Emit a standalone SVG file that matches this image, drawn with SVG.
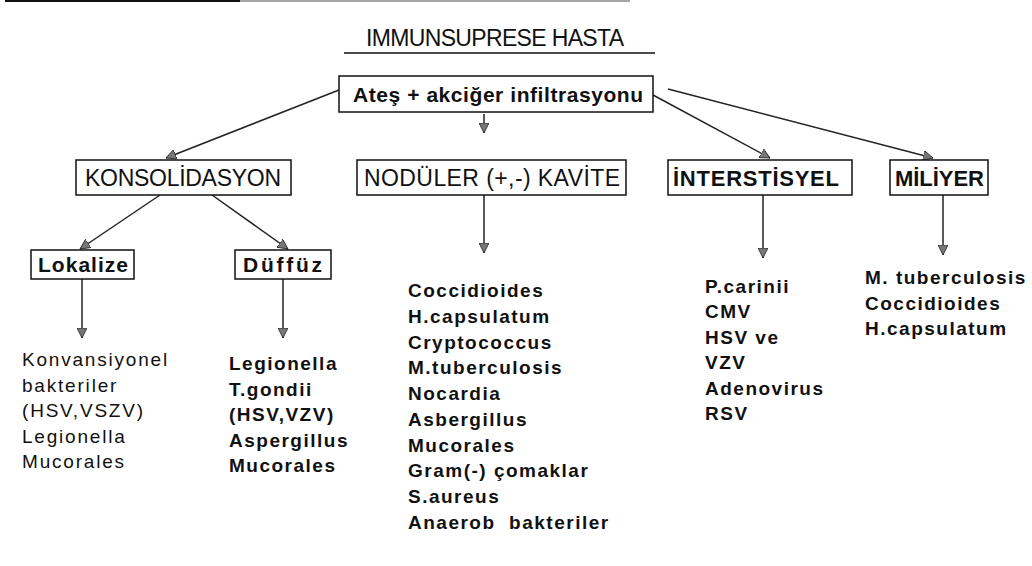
<svg xmlns="http://www.w3.org/2000/svg" width="1032" height="566" viewBox="0 0 1032 566">
<defs>
<style>
.box{fill:#fff;stroke:#111;stroke-width:1.5}
.lbl{font-family:"Liberation Sans",Arial,sans-serif;fill:#111}
.reg{font-weight:normal}
.bold{font-weight:bold}
.list{font-family:"Liberation Sans",Arial,sans-serif;font-size:19px;fill:#111}
.conn{stroke:#222;stroke-width:1.5;fill:none;marker-end:url(#arr)}
</style>
<marker id="arr" viewBox="0 0 10 10" refX="10" refY="5" markerWidth="10" markerHeight="10" markerUnits="userSpaceOnUse" orient="auto">
<path d="M0,0 L10,5 L0,10 z" fill="#777" stroke="#222" stroke-width="0.8"/>
</marker>
</defs>
<rect width="1032" height="566" fill="#fff"/>
<line x1="5" y1="1" x2="240" y2="1" stroke="#111" stroke-width="2"/>
<line x1="240" y1="1" x2="630" y2="1" stroke="#888" stroke-width="1.5"/>

<g id="title">
<text class="lbl reg" x="366" y="46" font-size="23" textLength="258">IMMUNSUPRESE HASTA</text>
<line x1="344" y1="53" x2="655" y2="53" stroke="#111" stroke-width="1.5"/>
</g>

<g id="connectors">
<line class="conn" x1="339" y1="90" x2="166" y2="158"/>
<line class="conn" x1="484" y1="114" x2="484" y2="133"/>
<line class="conn" x1="653" y1="95" x2="770" y2="158"/>
<line class="conn" x1="668" y1="89" x2="933" y2="158"/>
<line class="conn" x1="160" y1="195" x2="80" y2="249"/>
<line class="conn" x1="212" y1="195" x2="288" y2="249"/>
<line class="conn" x1="82" y1="279" x2="82" y2="338"/>
<line class="conn" x1="283" y1="279" x2="283" y2="338"/>
<line class="conn" x1="484" y1="195" x2="484" y2="253"/>
<line class="conn" x1="763" y1="195" x2="763" y2="258"/>
<line class="conn" x1="943" y1="195" x2="943" y2="255"/>
</g>

<g id="root">
<rect class="box" x="339" y="76" width="314" height="36"/>
<text class="lbl bold" x="353" y="102" font-size="21" textLength="290">Ateş + akciğer infiltrasyonu</text>
</g>

<g id="konsolidasyon">
<rect class="box" x="76" y="160" width="215" height="35"/>
<text class="lbl reg" x="85" y="186" font-size="23" textLength="196">KONSOLİDASYON</text>
</g>

<g id="noduler">
<rect class="box" x="357" y="160" width="269" height="35"/>
<text class="lbl reg" x="364" y="186" font-size="23" textLength="256">NODÜLER (+,-) KAVİTE</text>
</g>

<g id="interstisyel">
<rect class="box" x="668" y="160" width="184" height="35"/>
<text class="lbl bold" x="673" y="186" font-size="22" textLength="166">İNTERSTİSYEL</text>
</g>

<g id="miliyer">
<rect class="box" x="890" y="160" width="98" height="35"/>
<text class="lbl bold" x="895" y="186" font-size="22" textLength="89">MİLİYER</text>
</g>

<g id="lokalize">
<rect class="box" x="31" y="250" width="103" height="29"/>
<text class="lbl bold" x="38" y="272" font-size="21" textLength="90">Lokalize</text>
</g>

<g id="duffuz">
<rect class="box" x="235" y="250" width="96" height="29"/>
<text class="lbl bold" x="243" y="272" font-size="21" textLength="79">Düffüz</text>
</g>

<g id="lokalize-list">
<text class="list reg" letter-spacing="1.8" x="22" y="366" font-size="20">Konvansiyonel</text>
<text class="list reg" letter-spacing="1.8" x="22" y="392" font-size="20">bakteriler</text>
<text class="list reg" letter-spacing="1.8" x="22" y="417" font-size="20">(HSV,VSZV)</text>
<text class="list reg" letter-spacing="1.8" x="22" y="443" font-size="20">Legionella</text>
<text class="list reg" letter-spacing="1.8" x="22" y="468" font-size="20">Mucorales</text>
</g>

<g id="duffuz-list">
<text class="list bold" letter-spacing="1.5" x="229" y="370">Legionella</text>
<text class="list bold" letter-spacing="1.5" x="229" y="396">T.gondii</text>
<text class="list bold" letter-spacing="1.5" x="229" y="421">(HSV,VZV)</text>
<text class="list bold" letter-spacing="1.5" x="229" y="447">Aspergillus</text>
<text class="list bold" letter-spacing="1.5" x="229" y="472">Mucorales</text>
</g>

<g id="noduler-list">
<text class="list bold" letter-spacing="1.5" x="408" y="297">Coccidioides</text>
<text class="list bold" letter-spacing="1.5" x="408" y="323">H.capsulatum</text>
<text class="list bold" letter-spacing="1.5" x="408" y="349">Cryptococcus</text>
<text class="list bold" letter-spacing="1.5" x="408" y="374">M.tuberculosis</text>
<text class="list bold" letter-spacing="1.5" x="408" y="400">Nocardia</text>
<text class="list bold" letter-spacing="1.5" x="408" y="426">Asbergillus</text>
<text class="list bold" letter-spacing="1.5" x="408" y="452">Mucorales</text>
<text class="list bold" letter-spacing="1.5" x="408" y="477">Gram(-) çomaklar</text>
<text class="list bold" letter-spacing="1.5" x="408" y="503">S.aureus</text>
<text class="list bold" letter-spacing="1.5" x="408" y="529" xml:space="preserve">Anaerob  bakteriler</text>
</g>

<g id="interstisyel-list">
<text class="list bold" letter-spacing="1.5" x="705" y="293">P.carinii</text>
<text class="list bold" letter-spacing="1.5" x="705" y="318">CMV</text>
<text class="list bold" letter-spacing="1.5" x="705" y="344">HSV ve</text>
<text class="list bold" letter-spacing="1.5" x="705" y="369">VZV</text>
<text class="list bold" letter-spacing="1.5" x="705" y="395">Adenovirus</text>
<text class="list bold" letter-spacing="1.5" x="705" y="420">RSV</text>
</g>

<g id="miliyer-list">
<text class="list bold" letter-spacing="1.5" x="865" y="284">M. tuberculosis</text>
<text class="list bold" letter-spacing="1.5" x="865" y="310">Coccidioides</text>
<text class="list bold" letter-spacing="1.5" x="865" y="335">H.capsulatum</text>
</g>
</svg>
